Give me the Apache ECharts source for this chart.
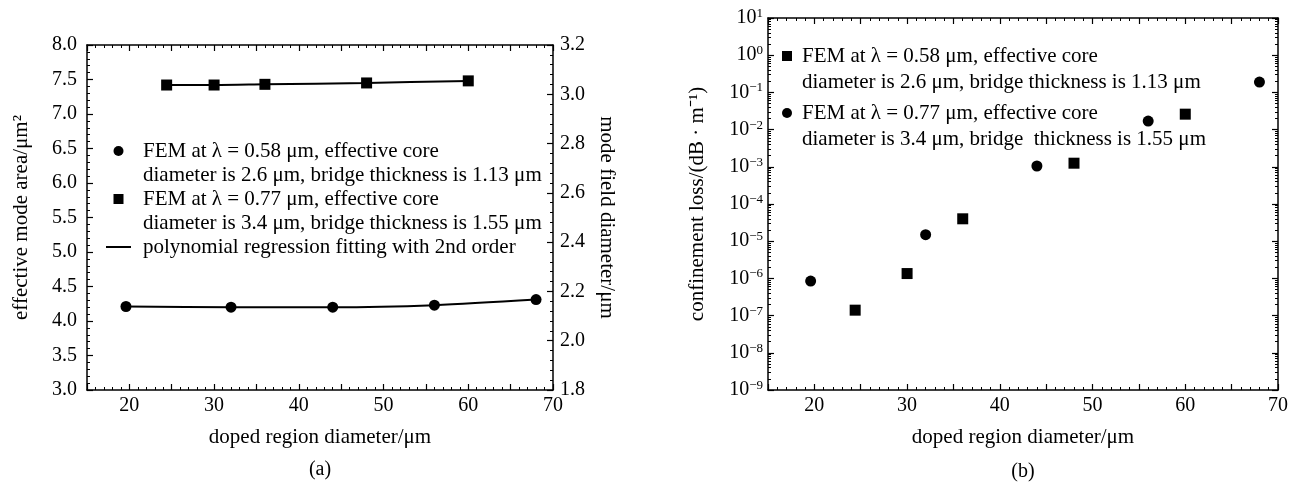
<!DOCTYPE html>
<html>
<head>
<meta charset="utf-8">
<script src="https://cdn.jsdelivr.net/npm/echarts@6/dist/echarts.min.js"></script>
<style>
  html, body { margin: 0; padding: 0; background: #fff; }
  #chart { width: 1295px; height: 484px; }
</style>
</head>
<body>
<div id="chart"></div>
<script>
// (a) effective mode area vs doped region diameter
const diamCircleA = [19.6, 32, 44, 56, 68];
const areaCircleA = [4.21, 4.20, 4.20, 4.23, 4.31];
const diamSquareA = [24.4, 30, 36, 48, 60];
const areaSquareA = [7.42, 7.42, 7.43, 7.45, 7.48];

// (b) confinement loss vs doped region diameter
const diamSquareB = [24.4, 30, 36, 48, 60];
const lossSquareB = [1.4e-7, 1.35e-6, 4.0e-5, 1.25e-3, 2.6e-2];
const diamCircleB = [19.6, 32, 44, 56, 68];
const lossCircleB = [8.5e-7, 1.5e-5, 1.05e-3, 1.7e-2, 0.19];

const nameA1 = 'FEM at λ = 0.58 μm, effective core\ndiameter is 2.6 μm, bridge thickness is 1.13 μm';
const nameA2 = 'FEM at λ = 0.77 μm, effective core\ndiameter is 3.4 μm, bridge thickness is 1.55 μm';
const nameFit = 'polynomial regression fitting with 2nd order';
const nameB1 = 'FEM at λ = 0.58 μm, effective core\ndiameter is 2.6 μm, bridge thickness is 1.13 μm';
const nameB2 = 'FEM at λ = 0.77 μm, effective core\ndiameter is 3.4 μm, bridge  thickness is 1.55 μm';

const pairs = (xs, ys) => xs.map((x, i) => [x, ys[i]]);

const font = "'Liberation Serif', 'Times New Roman', serif";
const ink = '#000';

const chart = echarts.init(document.getElementById('chart'));

// keep the marker next to the first line of a two-line legend entry
const legendText = name => (name.indexOf('\n') >= 0 ? '\n' + name : '\n' + name + '\n');

function xAxisOf(grid, top) {
  return {
    type: 'value', gridIndex: grid, position: top ? 'top' : 'bottom',
    min: 15, max: 70, interval: 5,
    name: top ? '' : 'doped region diameter/μm',
    nameLocation: 'middle', nameGap: 37,
    nameTextStyle: { fontFamily: font, fontSize: 21, color: ink },
    axisLine: { onZero: false, lineStyle: { color: ink, width: 1.5 } },
    axisTick: { inside: true, length: 6, lineStyle: { color: ink, width: 1.2 } },
    minorTick: { show: true, splitNumber: 5, length: 3, lineStyle: { color: ink, width: 1 } },
    splitLine: { show: false },
    axisLabel: {
      show: !top, fontFamily: font, fontSize: 20, color: ink, margin: 6,
      formatter: v => (v % 10 === 0 ? String(v) : '')
    }
  };
}

function logLabel(v) {
  const e = Math.round(Math.log10(v));
  return '{b|10}{s|' + (e < 0 ? '−' + (-e) : e) + '}';
}

function logAxisOf(right) {
  return {
    type: 'log', logBase: 10, gridIndex: 1, position: right ? 'right' : 'left',
    min: 1e-9, max: 10, splitNumber: 10,
    name: right ? '' : 'confinement loss/(dB · m⁻¹)',
    nameLocation: 'middle', nameGap: 60,
    nameTextStyle: { fontFamily: font, fontSize: 21, color: ink },
    axisLine: { onZero: false, lineStyle: { color: ink, width: 1.5 } },
    axisTick: { inside: true, length: 6, lineStyle: { color: ink, width: 1.2 } },
    minorTick: { show: true, splitNumber: 9, length: 3, lineStyle: { color: ink, width: 1 } },
    splitLine: { show: false },
    axisLabel: {
      show: !right, margin: 5, formatter: logLabel,
      rich: {
        b: { fontFamily: font, fontSize: 20, color: ink, lineHeight: 22 },
        s: { fontFamily: font, fontSize: 13, color: ink, lineHeight: 13, verticalAlign: 'top' }
      }
    }
  };
}

const option = {
  backgroundColor: '#fff',
  animation: false,
  grid: [
    { left: 87, right: 742, top: 45, bottom: 94 },
    { left: 768, right: 17, top: 18, bottom: 94 }
  ],
  xAxis: [xAxisOf(0, false), xAxisOf(0, true), xAxisOf(1, false), xAxisOf(1, true)],
  yAxis: [
    {
      type: 'value', gridIndex: 0, position: 'left', min: 3, max: 8, interval: 0.5,
      name: 'effective mode area/μm²', nameLocation: 'middle', nameGap: 55,
      nameTextStyle: { fontFamily: font, fontSize: 21, color: ink },
      axisLine: { onZero: false, lineStyle: { color: ink, width: 1.5 } },
      axisTick: { inside: true, length: 6, lineStyle: { color: ink, width: 1.2 } },
      minorTick: { show: true, splitNumber: 5, length: 3, lineStyle: { color: ink, width: 1 } },
      splitLine: { show: false },
      axisLabel: { fontFamily: font, fontSize: 20, color: ink, margin: 10, formatter: v => v.toFixed(1) }
    },
    {
      type: 'value', gridIndex: 0, position: 'right', min: 1.8, max: 3.2, interval: 0.2,
      name: 'mode field diameter/μm', nameLocation: 'middle', nameGap: 43, nameRotate: -90,
      nameTextStyle: { fontFamily: font, fontSize: 21, color: ink },
      axisLine: { onZero: false, lineStyle: { color: ink, width: 1.5 } },
      axisTick: { inside: true, length: 6, lineStyle: { color: ink, width: 1.2 } },
      minorTick: { show: true, splitNumber: 5, length: 3, lineStyle: { color: ink, width: 1 } },
      splitLine: { show: false },
      axisLabel: { fontFamily: font, fontSize: 20, color: ink, margin: 7, formatter: v => v.toFixed(1) }
    },
    logAxisOf(false),
    logAxisOf(true)
  ],
  legend: [
    {
      orient: 'vertical', left: 105, top: 115, padding: 0, itemGap: -24,
      itemWidth: 25, itemHeight: 10, selectedMode: false, formatter: legendText,
      textStyle: { fontFamily: font, fontSize: 21, color: ink, lineHeight: 24, padding: [0, 0, 0, 7] },
      data: [
        { name: nameA1, icon: 'circle' },
        { name: nameA2, icon: 'path://M0,0L10,0L10,10L0,10Z' },
        { name: nameFit, itemStyle: { color: 'rgba(0,0,0,0)', borderWidth: 0 } }
      ]
    },
    {
      orient: 'vertical', left: 782, top: 17, padding: 0, itemGap: -21,
      itemWidth: 10, itemHeight: 10, selectedMode: false, formatter: legendText,
      textStyle: { fontFamily: font, fontSize: 21, color: ink, lineHeight: 26, padding: [0, 0, 0, 5] },
      data: [
        { name: nameB1, icon: 'rect' },
        { name: nameB2, icon: 'circle' }
      ]
    }
  ],
  graphic: [
    { type: 'text', x: 320, y: 470, style: { text: '(a)', font: '20px ' + font, fill: ink, align: 'center', verticalAlign: 'middle' } },
    { type: 'text', x: 1023, y: 472, style: { text: '(b)', font: '20px ' + font, fill: ink, align: 'center', verticalAlign: 'middle' } }
  ],
  series: [
    {
      name: nameFit, type: 'line', xAxisIndex: 0, yAxisIndex: 0, smooth: 0.3, symbol: 'none',
      lineStyle: { color: ink, width: 2 }, itemStyle: { color: ink }, z: 1,
      data: pairs(diamCircleA, areaCircleA)
    },
    {
      name: nameFit, type: 'line', xAxisIndex: 0, yAxisIndex: 0, smooth: 0.3, symbol: 'none',
      lineStyle: { color: ink, width: 2 }, itemStyle: { color: ink }, z: 1,
      data: pairs(diamSquareA, areaSquareA)
    },
    {
      name: nameA1, type: 'scatter', xAxisIndex: 0, yAxisIndex: 0, symbol: 'circle', symbolSize: 11,
      itemStyle: { color: ink, opacity: 1 }, z: 3, data: pairs(diamCircleA, areaCircleA)
    },
    {
      name: nameA2, type: 'scatter', xAxisIndex: 0, yAxisIndex: 0, symbol: 'rect', symbolSize: 11,
      itemStyle: { color: ink, opacity: 1 }, z: 3, data: pairs(diamSquareA, areaSquareA)
    },
    {
      name: nameB1, type: 'scatter', xAxisIndex: 2, yAxisIndex: 2, symbol: 'rect', symbolSize: 11,
      itemStyle: { color: ink, opacity: 1 }, z: 3, data: pairs(diamSquareB, lossSquareB)
    },
    {
      name: nameB2, type: 'scatter', xAxisIndex: 2, yAxisIndex: 2, symbol: 'circle', symbolSize: 11,
      itemStyle: { color: ink, opacity: 1 }, z: 3, data: pairs(diamCircleB, lossCircleB)
    }
  ]
};

chart.setOption(option);
</script>
</body>
</html>
